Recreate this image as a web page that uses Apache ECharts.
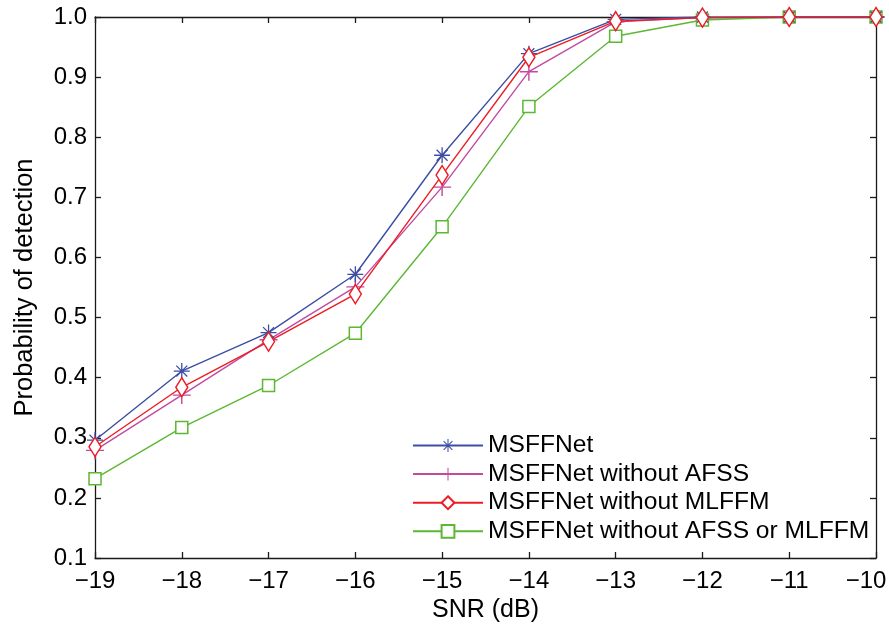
<!DOCTYPE html>
<html>
<head>
<meta charset="utf-8">
<script src="https://cdn.jsdelivr.net/npm/echarts@6/dist/echarts.min.js"></script>
<style>html,body{margin:0;padding:0;background:#fff}#c{width:889px;height:628px}</style>
</head>
<body>
<div id="c"></div>
<script>
const snr = [-19, -18, -17, -16, -15, -14, -13, -12, -11, -10];
const msffnet = [0.296, 0.411, 0.475, 0.572, 0.770, 0.939, 0.996, 1.0, 1.0, 1.0];
const noAFSS = [0.279, 0.371, 0.463, 0.551, 0.717, 0.909, 0.992, 0.999, 1.0, 1.0];
const noMLFFM = [0.285, 0.384, 0.460, 0.539, 0.737, 0.933, 0.993, 0.999, 1.0, 1.0];
const noBoth = [0.232, 0.317, 0.387, 0.474, 0.651, 0.851, 0.968, 0.995, 1.0, 1.0];
const seriesNames = ['MSFFNet', 'MSFFNet without AFSS', 'MSFFNet without MLFFM', 'MSFFNet without AFSS or MLFFM'];
const yTicks = [0.1, 0.2, 0.3, 0.4, 0.5, 0.6, 0.7, 0.8, 0.9, 1.0];

const font = 'Liberation Sans, Arial, sans-serif';
const star = 'path://M9.2,0 L10.8,0 L10.8,20 L9.2,20 Z M0,9.2 L20,9.2 L20,10.8 L0,10.8 Z M2.6,3.7 L3.7,2.6 L17.4,16.3 L16.3,17.4 Z M16.3,2.6 L17.4,3.7 L3.7,17.4 L2.6,16.3 Z';
const plus = 'path://M9.2,0 L10.8,0 L10.8,20 L9.2,20 Z M0,9.2 L20,9.2 L20,10.8 L0,10.8 Z';

function pairs(vals) { return snr.map((x, i) => [x, vals[i]]); }

const chart = echarts.init(document.getElementById('c'), null, {renderer: 'canvas'});
const axisLine = {show: true, lineStyle: {color: '#1a1a1a', width: 1.3}};
const tick = {show: true, inside: true, length: 6, lineStyle: {color: '#1a1a1a', width: 1.3}};
chart.setOption({
  animation: false,
  backgroundColor: '#fff',
  grid: {left: 95, right: 13, top: 17, bottom: 70, containLabel: false, outerBoundsMode: 'none'},
  legend: {
    orient: 'vertical', left: 407, top: 428,
    itemWidth: 70, itemHeight: 16, itemGap: 3.6,
    textStyle: {fontFamily: font, fontSize: 24.6, lineHeight: 24, color: '#000', padding: [0, 0, 0, 0]},
    data: seriesNames
  },
  xAxis: [{
    type: 'value', min: -19, max: -10, interval: 1,
    axisLine: axisLine, axisTick: tick, splitLine: {show: false},
    axisLabel: {fontFamily: font, fontSize: 24, color: '#000', margin: 11,
      formatter: v => {
        const s = String(v).replace('-', '\u2212');
        return v === snr[snr.length - 1] ? '{e|' + s + '}' : s;
      },
      rich: {e: {fontFamily: font, fontSize: 24, color: '#000', padding: [0, 20, 0, 0]}}},
    name: 'SNR (dB)', nameLocation: 'middle', nameGap: 36,
    nameTextStyle: {fontFamily: font, fontSize: 25, color: '#000'}
  }, {
    type: 'value', min: -19, max: -10, interval: 1, position: 'top',
    axisLine: axisLine, axisTick: tick, axisLabel: {show: false}, splitLine: {show: false}
  }],
  yAxis: [{
    type: 'value', min: 0.1, max: 1.0, interval: 0.1,
    axisLine: axisLine, axisTick: tick, splitLine: {show: false},
    axisLabel: {fontFamily: font, fontSize: 24, color: '#000', margin: 8,
      formatter: v => { const t = yTicks.find(k => Math.abs(k - v) < 1e-6); return t === undefined ? '' : t.toFixed(1); }},
    name: 'Probability of detection', nameLocation: 'middle', nameGap: 57,
    nameTextStyle: {fontFamily: font, fontSize: 25.5, color: '#000'}
  }, {
    type: 'value', min: 0.1, max: 1.0, interval: 0.1, position: 'right',
    axisLine: axisLine, axisTick: tick, axisLabel: {show: false}, splitLine: {show: false}
  }],
  series: [
    {name: seriesNames[0], type: 'line', data: pairs(msffnet), symbol: star, symbolSize: 16,
      lineStyle: {color: '#3b4ea3', width: 1.4}, itemStyle: {color: '#3b4ea3', borderWidth: 0}, z: 4},
    {name: seriesNames[1], type: 'line', data: pairs(noAFSS), symbol: plus, symbolSize: 18,
      lineStyle: {color: '#c24b9f', width: 1.4}, itemStyle: {color: '#c24b9f', borderWidth: 0}, z: 3},
    {name: seriesNames[2], type: 'line', data: pairs(noMLFFM), symbol: 'diamond', symbolSize: [12, 19],
      lineStyle: {color: '#ec1c24', width: 1.4}, itemStyle: {color: '#fff', borderColor: '#ec1c24', borderWidth: 1.5}, z: 5},
    {name: seriesNames[3], type: 'line', data: pairs(noBoth), symbol: 'rect', symbolSize: 12,
      lineStyle: {color: '#5cb833', width: 1.4}, itemStyle: {color: '#fff', borderColor: '#5cb833', borderWidth: 1.5}, z: 2}
  ]
});
</script>
</body>
</html>
